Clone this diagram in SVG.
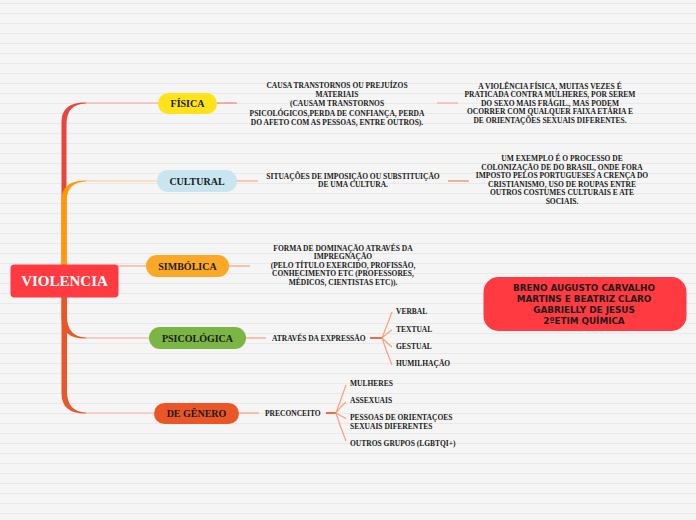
<svg xmlns="http://www.w3.org/2000/svg" width="696" height="520" viewBox="0 0 696 520">
<defs>
<pattern id="bg" width="696" height="10" patternUnits="userSpaceOnUse">
<rect width="696" height="10" fill="#f5f5f5"/>
<rect y="3" width="696" height="1" fill="#e9e9e9"/>
</pattern>
</defs>
<style>
.t{font-family:"Liberation Serif","Times New Roman",serif;font-weight:bold;fill:#1a1a1a}
.s{font-size:7.5px}
.m{text-anchor:middle}
.n{font-size:10px;text-anchor:middle}
.thin{fill:none;stroke-width:1.2}
.a{font-family:"DejaVu Sans",Verdana,sans-serif;font-weight:bold;font-size:8.8px;text-anchor:middle;fill:#1c1c1c}
</style>
<rect width="696" height="520" fill="url(#bg)"/>

<g id="connectors">
<path d="M61.5,270 L61.5,122 Q61.5,101.8 86,102.4 L86,103.6 Q66.5,104 66.5,124 L66.5,270 Z" fill="#e8453d"/>
<path d="M86,103 L158,103" class="thin" stroke="#f1a29c"/>
<path d="M61.5,270 L61.5,200 Q61.5,180.4 86,180.4 L86,181.6 Q66.5,182 66.5,202 L66.5,270 Z" fill="#ff9a00"/>
<path d="M86,181 L157,181" class="thin" stroke="#ffc98c"/>
<path d="M118,266 L146,266" class="thin" stroke="#f5a58a"/>
<path d="M61.5,292 L61.5,318 Q61.5,339 86,338.6 L86,337.4 Q67,337 67,316 L67,292 Z" fill="#e8572a"/>
<path d="M61.5,292 L61.5,393 Q61.5,414 86,413.6 L86,412.4 Q67,412 67,391 L67,292 Z" fill="#e8572a"/>
<path d="M86,338 L149,338" class="thin" stroke="#f6a88c"/>
<path d="M86,413 L154,413" class="thin" stroke="#f8b49e"/>

<path d="M217,103 L237,103" class="thin" stroke="#ee7f77"/>
<path d="M437,103 L458,103" class="thin" stroke="#f3aaa4"/>
<path d="M237,181 L258,181" class="thin" stroke="#f9a77a"/>
<path d="M448,181 L469,181" fill="none" stroke-width="1.5" stroke="#f29a7c"/>
<path d="M229,266 L250,266" class="thin" stroke="#f4a080"/>
<path d="M246,338 L266,338" class="thin" stroke="#f6a080"/>
<path d="M239,413 L259,413" class="thin" stroke="#f6a080"/>

<path d="M370,338 L382,338" fill="none" stroke="#ef6d45" stroke-width="2"/>
<path d="M382,338 Q386,328 392,312 M382,338 Q387,333 392,330 M382,338 Q387,343 392,347 M382,338 Q386,350 392,365" class="thin" stroke="#f6a080"/>
<path d="M326,413 L336,413" fill="none" stroke="#ef6d45" stroke-width="2"/>
<path d="M336,413 Q340,402 346,385 M336,413 Q341,406 346,402 M336,413 Q341,416 346,418.5 M336,413 Q340,426 346,441" class="thin" stroke="#f6a080"/>
</g>

<g id="root">
<rect x="10.5" y="264.5" width="108" height="33" rx="4" fill="#ff3b41"/>
<text x="64.5" y="286.3" class="t" style="font-size:15px;text-anchor:middle;fill:#ffffff">VIOLENCIA</text>
</g>

<g id="fisica">
<rect x="158" y="93" width="59" height="21" rx="10.5" fill="#ffe31a"/>
<text x="187.5" y="107" class="t n">FÍSICA</text>
</g>
<g id="cultural">
<rect x="157" y="170" width="80" height="22" rx="11" fill="#c8e5f0"/>
<text x="197" y="184.5" class="t n">CULTURAL</text>
</g>
<g id="simbolica">
<rect x="146" y="255" width="83" height="22" rx="11" fill="#fba826"/>
<text x="187.5" y="269.5" class="t n">SIMBÓLICA</text>
</g>
<g id="psicologica">
<rect x="149" y="327" width="97" height="22" rx="11" fill="#7bb544"/>
<text x="197.5" y="341.5" class="t n">PSICOLÓGICA</text>
</g>
<g id="genero">
<rect x="154" y="403" width="85" height="21" rx="10.5" fill="#ea5626"/>
<text x="196.5" y="417" class="t n">DE GÊNERO</text>
</g>

<g id="fisica-desc">
<text class="t s m" x="337"><tspan x="337" y="87.7">CAUSA TRANSTORNOS OU PREJUÍZOS</tspan><tspan x="337" y="97">MATERIAIS</tspan><tspan x="337" y="106.3">(CAUSAM TRANSTORNOS</tspan><tspan x="337" y="115.6">PSICOLÓGICOS,PERDA DE CONFIANÇA, PERDA</tspan><tspan x="337" y="124.9">DO AFETO COM AS PESSOAS, ENTRE OUTROS).</tspan></text>
</g>
<g id="fisica-ex">
<text class="t s m" x="550"><tspan x="550" y="88.5">A VIOLÊNCIA FÍSICA, MUITAS VEZES É</tspan><tspan x="550" y="97.1">PRATICADA CONTRA MULHERES, POR SEREM</tspan><tspan x="550" y="105.7">DO SEXO MAIS FRÁGIL., MAS PODEM</tspan><tspan x="550" y="114.3">OCORRER COM QUALQUER FAIXA ETÁRIA E</tspan><tspan x="550" y="122.9">DE ORIENTAÇÕES SEXUAIS DIFERENTES.</tspan></text>
</g>
<g id="cultural-desc">
<text class="t s m" x="353"><tspan x="353" y="179">SITUAÇÕES DE IMPOSIÇÃO OU SUBSTITUIÇÃO</tspan><tspan x="353" y="187.3">DE UMA CULTURA.</tspan></text>
</g>
<g id="cultural-ex">
<text class="t s m" x="562"><tspan x="562" y="161.4">UM EXEMPLO É O PROCESSO DE</tspan><tspan x="562" y="169.9">COLONIZAÇÃO DE DO BRASIL, ONDE FORA</tspan><tspan x="562" y="178.4">IMPOSTO PELOS PORTUGUESES A CRENÇA DO</tspan><tspan x="562" y="186.9">CRISTIANISMO, USO DE ROUPAS ENTRE</tspan><tspan x="562" y="195.4">OUTROS COSTUMES CULTURAIS E ATE</tspan><tspan x="562" y="203.9">SOCIAIS.</tspan></text>
</g>
<g id="simbolica-desc">
<text class="t s m" x="343"><tspan x="343" y="250.7">FORMA DE DOMINAÇÃO ATRAVÉS DA</tspan><tspan x="343" y="259.2">IMPREGNAÇÃO</tspan><tspan x="343" y="267.7">(PELO TÍTULO EXERCIDO, PROFISSÃO,</tspan><tspan x="343" y="276.2">CONHECIMENTO ETC (PROFESSORES,</tspan><tspan x="343" y="284.7">MÉDICOS, CIENTISTAS ETC)).</tspan></text>
</g>
<g id="psicologica-desc">
<text class="t s" x="272" y="340.6">ATRAVÉS DA EXPRESSÃO</text>
</g>
<g id="verbal"><text class="t s" x="396" y="313.6">VERBAL</text></g>
<g id="textual"><text class="t s" x="396" y="331.6">TEXTUAL</text></g>
<g id="gestual"><text class="t s" x="396" y="348.6">GESTUAL</text></g>
<g id="humilhacao"><text class="t s" x="396" y="366">HUMILHAÇÃO</text></g>
<g id="genero-desc">
<text class="t s" x="265" y="416">PRECONCEITO</text>
</g>
<g id="mulheres"><text class="t s" x="350" y="386">MULHERES</text></g>
<g id="assexuais"><text class="t s" x="350" y="402.6">ASSEXUAIS</text></g>
<g id="orientacoes"><text class="t s" x="350"><tspan x="350" y="419.6">PESSOAS DE ORIENTAÇOES</tspan><tspan x="350" y="428.6">SEXUAIS DIFERENTES</tspan></text></g>
<g id="outros"><text class="t s" x="350" y="445.6">OUTROS GRUPOS (LGBTQI+)</text></g>

<g id="authors">
<rect x="483.5" y="277" width="203" height="54" rx="15" fill="#ff3a40"/>
<text class="a" x="584"><tspan x="584" y="290.5">BRENO AUGUSTO CARVALHO</tspan><tspan x="584" y="301.5">MARTINS E BEATRIZ CLARO</tspan><tspan x="584" y="312.5">GABRIELLY DE JESUS</tspan><tspan x="584" y="323.5">2ºETIM QUÍMICA</tspan></text>
</g>
</svg>
